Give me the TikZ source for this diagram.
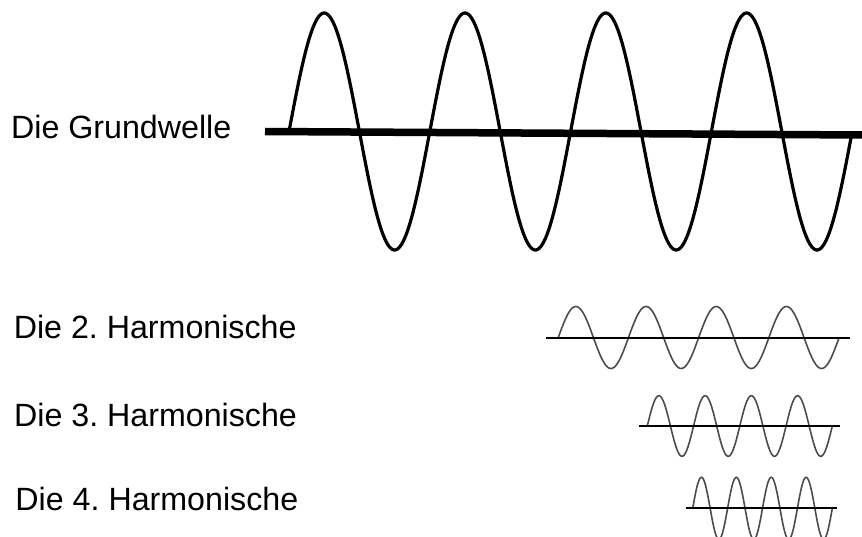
\documentclass[tikz,border=0pt]{standalone}
\usepackage{fontspec}
\setmainfont{Liberation Sans}
\frenchspacing
\begin{document}
\begin{tikzpicture}[x=1pt,y=-1pt,
  lbl/.style={anchor=base west, inner sep=0pt, font=\fontsize{32.2}{36}\selectfont},
  mainaxis/.style={line width=7.5pt},
  mainwave/.style={line width=3.2pt, black},
  haxis/.style={line width=2.2pt, black},
  hwave/.style={line width=1.6pt, black!70}]
\useasboundingbox (0,0) rectangle (862,537);
\fill[white] (0,0) rectangle (862,537);

% labels
\node[lbl] (l1) at (11,138.3) {Die Grundwelle};
\node[lbl] (l2) at (13.6,338.3) {Die 2. Harmonische};
\node[lbl] (l3) at (14.0,426) {Die 3. Harmonische};
\node[lbl] (l4) at (15.3,510) {Die 4. Harmonische};

% fundamental
\coordinate (a1s) at (265,131.5);
\coordinate (a1e) at (862,135);
\draw[mainaxis] (a1s) -- (a1e);
\draw[mainwave] plot[variable=\t, domain=0:1440, samples=361, smooth]
  ({289 + \t/360*140.8}, {131.5 - 118.5*sin(\t)});

% 2nd harmonic
\coordinate (a2s) at (546,338);
\coordinate (a2e) at (850,338);
\draw[hwave] plot[variable=\t, domain=0:1440, samples=241, smooth]
  ({558.3 + \t/360*70.2}, {337.5 - 31*sin(\t)});
\draw[haxis] (a2s) -- (a2e);

% 3rd harmonic
\coordinate (a3s) at (639,426);
\coordinate (a3e) at (840,426);
\draw[hwave] plot[variable=\t, domain=0:1440, samples=241, smooth]
  ({647.3 + \t/360*46.25}, {426 - 30.3*sin(\t)});
\draw[haxis] (a3s) -- (a3e);

% 4th harmonic
\coordinate (a4s) at (686,508.3);
\coordinate (a4e) at (837,508.3);
\draw[hwave] plot[variable=\t, domain=0:1440, samples=241, smooth]
  ({692.7 + \t/360*34.9}, {508.3 - 31*sin(\t)});
\draw[haxis] (a4s) -- (a4e);
\end{tikzpicture}
\end{document}
